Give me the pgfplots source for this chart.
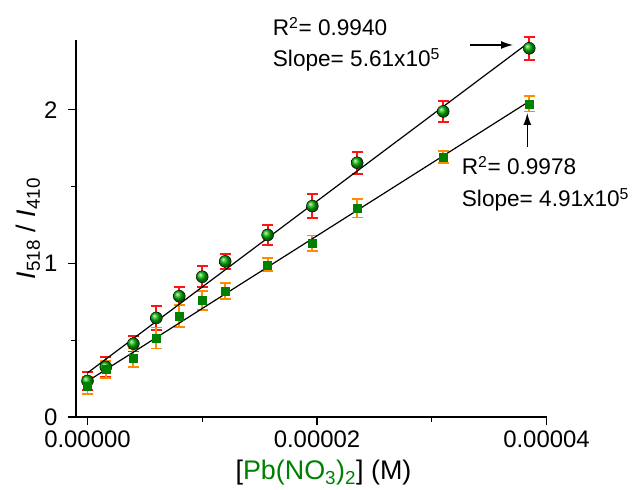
\documentclass[border=0pt]{standalone}
\usepackage{pgfplots}
\pgfplotsset{compat=1.18}
\usepackage{pgfplotstable}
\usepackage{fontspec}
\setmainfont{Liberation Sans}
\usetikzlibrary{arrows.meta}
\definecolor{mgreen}{RGB}{0,128,0}
\definecolor{bgreen}{RGB}{0,175,0}
\definecolor{ered}{RGB}{255,20,20}
\definecolor{eorange}{RGB}{255,140,0}

\pgfplotstableread{
x y ey
0 0.235 0.060
1.6e-6 0.326 0.062
4e-6 0.477 0.050
6e-6 0.645 0.080
8e-6 0.786 0.060
1e-5 0.913 0.068
1.2e-5 1.013 0.050
1.57e-5 1.185 0.065
1.96e-5 1.373 0.078
2.35e-5 1.655 0.072
3.1e-5 1.989 0.067
3.85e-5 2.400 0.074
}\circdata

\pgfplotstableread{
x y ey
0 0.203 0.055
1.6e-6 0.310 0.054
4e-6 0.386 0.060
6e-6 0.514 0.068
8e-6 0.657 0.072
1e-5 0.758 0.062
1.2e-5 0.822 0.052
1.57e-5 0.991 0.042
1.96e-5 1.132 0.050
2.35e-5 1.358 0.060
3.1e-5 1.691 0.040
3.85e-5 2.039 0.050
}\sqdata

\newcommand\annfont{\fontsize{22.7}{27}\selectfont}

\begin{document}
\begin{tikzpicture}
\path[use as bounding box] (-76bp,-73bp) rectangle (557bp,417bp);
\begin{axis}[
 at={(0,0)}, anchor=south west,
 scale only axis, width=470.5bp, height=377bp,
 xmin=-1e-6, xmax=4e-5, ymin=0, ymax=2.454,
 axis lines*=left,
 axis line style={line width=1.2bp},
 tick style={line width=1.2bp, black},
 tick align=outside,
 major tick length=8bp, minor tick length=4.5bp,
 xtick={0,2e-5,4e-5}, minor xtick={1e-5,3e-5},
 ytick={0,1,2}, minor ytick={0.5,1.5},
 scaled x ticks=false,
 xticklabel style={/pgf/number format/fixed, /pgf/number format/fixed zerofill, /pgf/number format/precision=5, yshift=-2bp},
 yticklabel style={xshift=-7bp},
 /pgf/number format/assume math mode=true,
 ticklabel style={font=\fontsize{24}{28}\selectfont},
 xlabel={[\textcolor{mgreen}{Pb(NO\textsubscript{3})\textsubscript{2}}] (M)},
 ylabel={\textit{I}\textsubscript{518} / \textit{I}\textsubscript{410}},
 label style={font=\fontsize{27}{32}\selectfont},
 xlabel style={at={(axis description cs:0.526,-0.167)}, anchor=base},
 ylabel style={at={(axis description cs:-0.102,0.5)}, anchor=center},
 clip=false,
]
% error bars of the circle series
\addplot[color=ered, only marks, mark=none, forget plot,
  error bars/.cd, y dir=both, y explicit,
  error bar style={color=ered, line width=1.8bp},
  error mark options={rotate=90, mark size=5.5bp, color=ered, line width=1.8bp}]
  table[x=x, y=y, y error=ey] {\circdata};
% error bars of the square series
\addplot[color=eorange, only marks, mark=none, forget plot,
  error bars/.cd, y dir=both, y explicit,
  error bar style={color=eorange, line width=1.8bp},
  error mark options={rotate=90, mark size=5.5bp, color=eorange, line width=1.8bp}]
  table[x=x, y=y, y error=ey] {\sqdata};
% markers
\addplot[only marks, mark=ball, mark size=6bp, mark options={ball color=bgreen, draw=none}]
  table[x=x, y=y] {\circdata};
\addplot[only marks, mark=square*, mark size=4bp, mark options={fill=mgreen, draw=mgreen}]
  table[x=x, y=y] {\sqdata};
\addplot[black, line width=1.2bp] coordinates {(0,0.287) (3.85e-5,2.44)};
\addplot[black, line width=1.2bp] coordinates {(0,0.233) (3.85e-5,2.055)};
\end{axis}
\node[anchor=base west, inner sep=0pt, font=\annfont] at (196.7bp,381bp) {R\textsuperscript{2}= 0.9940};
\node[anchor=base west, inner sep=0pt, font=\annfont] at (196.7bp,350bp) {Slope= 5.61x10\textsuperscript{5}};
\draw[line width=1.3bp, -{Latex[length=12bp,width=8bp]}] (394bp,372bp) -- (437bp,372bp);
\node[anchor=base west, inner sep=0pt, font=\annfont] at (385.7bp,242bp) {R\textsuperscript{2}= 0.9978};
\node[anchor=base west, inner sep=0pt, font=\annfont] at (385.7bp,210bp) {Slope= 4.91x10\textsuperscript{5}};
\draw[line width=1.3bp, -{Latex[length=12bp,width=8bp]}] (451.3bp,270bp) -- (451.3bp,304bp);
\end{tikzpicture}
\end{document}
